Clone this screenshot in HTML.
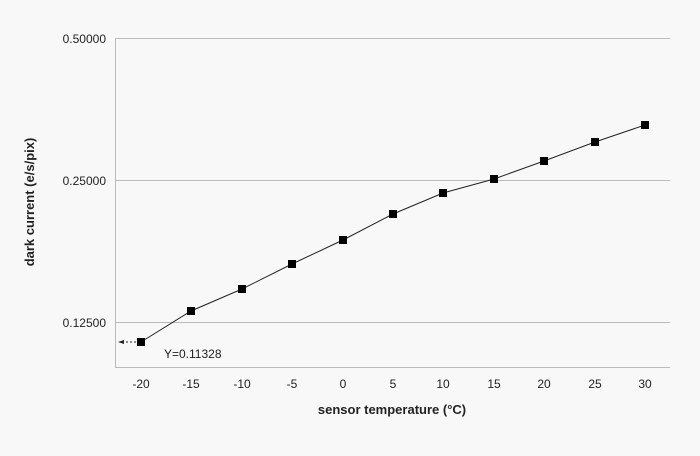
<!DOCTYPE html>
<html><head><style>body{margin:0;background:#f8f8f8}svg{display:block}text{font-family:"Liberation Sans","DejaVu Sans",sans-serif;fill:#222}</style></head>
<body>
<svg width="700" height="456" viewBox="0 0 700 456">
<rect width="700" height="456" fill="#f8f8f8"/>
<g stroke="#bbb" stroke-width="1">
<line x1="115" y1="38.5" x2="670" y2="38.5"/>
<line x1="115" y1="180.5" x2="670" y2="180.5"/>
<line x1="115" y1="322.5" x2="670" y2="322.5"/>
<line x1="115.5" y1="38" x2="115.5" y2="367"/>
<line x1="115" y1="367.5" x2="670" y2="367.5"/>
</g>
<g font-size="12" text-anchor="end">
<text x="106" y="43">0.50000</text>
<text x="106" y="185">0.25000</text>
<text x="106" y="327">0.12500</text>
</g>
<g font-size="12" text-anchor="middle">
<text x="141" y="388">-20</text><text x="191" y="388">-15</text><text x="242" y="388">-10</text>
<text x="292" y="388">-5</text><text x="343" y="388">0</text><text x="393" y="388">5</text>
<text x="443" y="388">10</text><text x="494" y="388">15</text><text x="544" y="388">20</text>
<text x="595" y="388">25</text><text x="645" y="388">30</text>
</g>
<text x="392" y="414" font-size="13" font-weight="bold" text-anchor="middle">sensor temperature (°C)</text>
<text transform="translate(34,202) rotate(-90)" font-size="13" font-weight="bold" text-anchor="middle">dark current (e/s/pix)</text>
<polyline fill="none" stroke="#222" stroke-width="1" points="141,342 191,311 242,289 292,264 343,240 393,214 443,193 494,179 544,161 595,142 645,125"/>
<g fill="#000">
<rect x="137" y="338" width="8" height="8"/><rect x="187" y="307" width="8" height="8"/>
<rect x="238" y="285" width="8" height="8"/><rect x="288" y="260" width="8" height="8"/>
<rect x="339" y="236" width="8" height="8"/><rect x="389" y="210" width="8" height="8"/>
<rect x="439" y="189" width="8" height="8"/><rect x="490" y="175" width="8" height="8"/>
<rect x="540" y="157" width="8" height="8"/><rect x="591" y="138" width="8" height="8"/>
<rect x="641" y="121" width="8" height="8"/>
</g>
<line x1="122" y1="342" x2="136" y2="342" stroke="#222" stroke-dasharray="2,2"/>
<polygon points="118,342 124,340 124,344" fill="#222"/>
<text x="164" y="358" font-size="12">Y=0.11328</text>
</svg>
</body></html>
